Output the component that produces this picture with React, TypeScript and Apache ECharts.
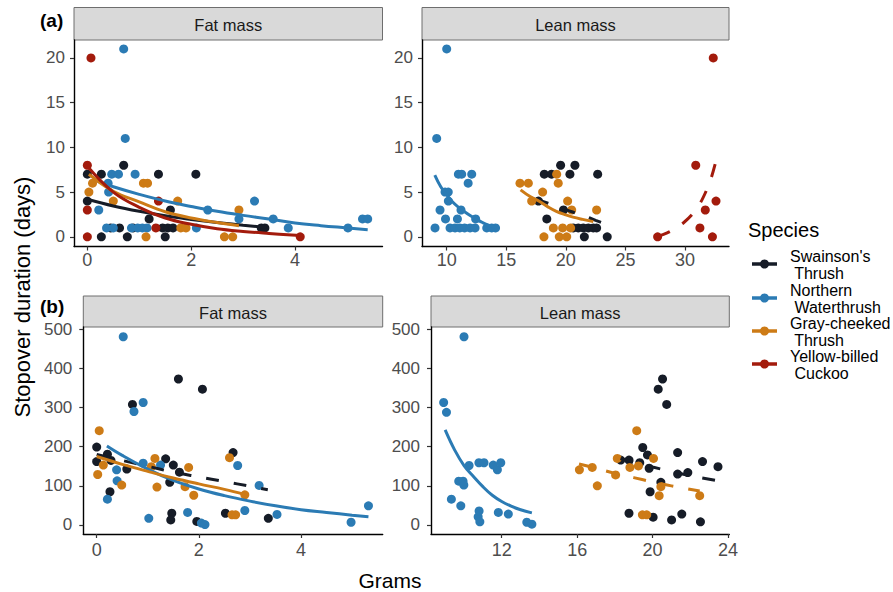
import React, { useEffect, useRef } from "react";
import * as echarts from "echarts";

const FONT = "'Liberation Sans', Arial, Helvetica, sans-serif";
const SPECIES = ["Swainson's\n Thrush", "Northern\n Waterthrush", "Gray-cheeked\n Thrush", "Yellow-billed\n Cuckoo"];
const COLORS = ["#161c27", "#2b7bb4", "#cd7b16", "#a31b0c"];
const STRIPS = ["Fat mass", "Lean mass", "Fat mass", "Lean mass"];

// tick labels
const xTicksAFat = [0, 2, 4];
const xTicksALean = [10, 15, 20, 25, 30];
const xTicksBFat = [0, 2, 4];
const xTicksBLean = [12, 16, 20, 24];
const yTicksA = [0, 5, 10, 15, 20];
const yTicksB = [0, 100, 200, 300, 400, 500];

// ---- (a) stopover days vs fat mass (g)
const aFatSwth = [[0, 7], [0.27, 7], [0.7, 8], [1.37, 7], [2.09, 7], [0, 4], [0.27, 0], [0.77, 0], [1.5, 0], [0.45, 1], [0.62, 1], [0.88, 1], [1.19, 2], [1.45, 1], [1.55, 1], [1.65, 1], [1.6, 3], [3.35, 1], [3.42, 1]];
const aFatNowa = [[0.7, 21], [0.73, 11], [0.47, 7], [0.6, 7], [0.92, 7], [0.4, 6], [0.41, 5], [0.22, 3], [0.37, 1], [0.5, 1], [0.85, 1], [0.97, 1], [1.06, 1], [1.15, 1], [2.1, 1], [2.32, 3], [2.92, 2], [3.22, 4], [3.58, 2], [3.87, 1], [5.02, 1], [5.3, 2], [5.4, 2]];
const aFatGcth = [[0.03, 5], [0.1, 6], [0.5, 4], [1.08, 6], [1.16, 6], [1.13, 0], [1.74, 4], [1.8, 1], [1.9, 1], [2.92, 3], [2.64, 0], [2.8, 0]];
const aFatYbcu = [[0.07, 20], [0, 8], [0, 3], [0, 0], [1.37, 4], [1.32, 1], [4.1, 0]];
// fitted curves
const aFatSwthFit = [[0, 4.2], [0.5, 3.45], [1, 2.85], [1.5, 2.35], [2, 1.95], [2.5, 1.6], [3, 1.3], [3.45, 1.05]];
const aFatNowaFit = [[0.2, 6.2], [0.5, 5.6], [1, 4.75], [1.5, 4.0], [2, 3.4], [2.5, 2.85], [3, 2.4], [3.5, 2.0], [4, 1.55], [4.5, 1.25], [5, 1.0], [5.4, 0.8]];
const aFatGcthFit = [[0.03, 7.0], [0.5, 5.1], [1, 3.9], [1.5, 2.8], [2, 2.1], [2.5, 1.6], [2.92, 1.25]];
const aFatYbcuFit = [[0, 7.9], [0.5, 5.0], [1, 3.3], [1.5, 2.1], [2, 1.4], [2.5, 0.9], [3, 0.6], [3.5, 0.38], [4.1, 0.15]];

// ---- (a) stopover days vs lean mass (g)
const aLeanSwth = [[18.19, 7], [18.8, 7], [19.56, 8], [20.76, 8], [20.34, 7], [22.67, 7], [17.7, 4], [19.8, 3], [18.4, 2], [20.62, 1], [21.04, 1], [21.46, 1], [21.88, 1], [22.3, 1], [22.58, 1], [21.55, 0], [23.47, 0]];
const aLeanNowa = [[10.0, 21], [9.16, 11], [10.98, 7], [11.26, 7], [12.1, 7], [11.8, 6], [9.86, 5], [10.13, 5], [10.14, 4], [9.44, 3], [11.2, 3], [9.9, 2], [10.9, 2], [12.43, 2], [9.02, 1], [10.28, 1], [10.7, 1], [11.1, 1], [11.5, 1], [11.96, 1], [12.38, 1], [13.36, 1], [13.78, 1], [14.1, 1]];
const aLeanGcth = [[16.15, 6], [16.85, 6], [19.23, 7], [19.36, 6], [18.05, 5], [17.13, 4], [20.15, 4], [20.49, 3], [22.58, 3], [18.95, 1], [19.73, 1], [20.4, 1], [18.16, 0], [19.45, 0], [20.07, 0]];
const aLeanYbcu = [[27.7, 0], [30.9, 8], [31.25, 1], [31.7, 3], [32.37, 20], [32.6, 4], [32.3, 0]];
const aLeanSwthFit = [[17.5, 4.25], [18.5, 3.75], [19.5, 3.3], [20.5, 2.8], [21.5, 2.35], [22.5, 1.85], [23.4, 1.4]];
const aLeanNowaFit = [[9.0, 6.9], [9.5, 5.6], [10, 4.7], [10.5, 3.9], [11, 3.3], [11.5, 2.8], [12, 2.35], [12.5, 1.95], [13, 1.6], [13.5, 1.3], [14.05, 1.05]];
const aLeanGcthFit = [[16.2, 5.25], [17, 4.5], [17.8, 3.95], [18.5, 3.35], [19.2, 2.85], [20, 2.45], [20.6, 2.2], [21.4, 1.95], [22.3, 1.7]];
const aLeanYbcuFit = [[27.7, 0.05], [28.5, 0.45], [29.2, 0.95], [29.9, 1.6], [30.6, 2.5], [31.2, 3.6], [31.8, 5.2], [32.2, 6.6], [32.6, 8.5]];

// ---- (b) vs fat mass (g)
const bFatSwth = [[0, 199], [0, 162], [0.21, 181], [0.28, 165], [0.26, 85], [0.59, 143], [0.7, 308], [1.35, 169], [1.5, 153], [1.62, 135], [1.43, 109], [1.6, 373], [2.07, 347], [1.47, 30], [1.45, 13], [1.96, 9], [2.52, 30], [2.67, 185], [3.36, 17]];
const bFatNowa = [[0.52, 481], [0.91, 313], [0.73, 290], [0.91, 158], [0.39, 141], [0.4, 113], [0.21, 66], [1.02, 17], [1.25, 153], [1.78, 32], [2.05, 5], [2.12, 1], [2.76, 152], [2.9, 37], [3.18, 101], [3.53, 27], [4.98, 7], [5.32, 49]];
const bFatGcth = [[0.05, 241], [0.02, 129], [0.13, 153], [0.49, 102], [1.14, 170], [1.07, 149], [1.18, 97], [1.8, 147], [1.73, 98], [1.9, 76], [2.6, 172], [2.65, 26], [2.72, 26], [2.9, 77]];
const bFatSwthFit = [[0, 180], [0.5, 165], [1, 150], [1.5, 135], [2, 123], [2.5, 111], [3, 99], [3.35, 90]];
const bFatNowaFit = [[0.2, 202], [0.5, 178], [1, 143], [1.5, 114], [2, 92], [2.5, 75], [3, 61], [3.5, 49], [4, 39], [4.5, 32], [5, 25], [5.32, 21]];
const bFatGcthFit = [[0, 175], [0.5, 155], [1, 137], [1.5, 120], [2, 105], [2.5, 91], [2.9, 78]];

// ---- (b) vs lean mass (g)
const bLeanSwth = [[20.53, 373], [20.3, 347], [20.75, 308], [19.48, 198], [19.73, 179], [21.33, 185], [22.65, 162], [23.47, 149], [18.31, 166], [18.75, 166], [19.32, 159], [19.82, 145], [21.33, 130], [21.87, 134], [20.44, 109], [19.87, 85], [18.75, 30], [20.03, 20], [21.01, 13], [21.55, 28], [22.54, 8]];
const bLeanNowa = [[8.92, 313], [9.07, 288], [9.33, 66], [9.72, 112], [9.95, 112], [9.99, 102], [9.83, 49], [10.27, 152], [10.0, 481], [10.79, 159], [11.06, 159], [11.55, 153], [11.77, 141], [11.95, 159], [10.75, 21], [10.84, 8], [10.8, 36], [11.82, 32], [12.35, 28], [13.33, 7], [13.6, 2]];
const bLeanGcth = [[19.16, 241], [18.13, 170], [20.05, 170], [16.12, 141], [16.8, 147], [18.8, 147], [19.25, 151], [18.04, 128], [17.07, 100], [20.44, 98], [20.35, 75], [22.5, 75], [19.46, 26], [19.69, 26]];
const bLeanSwthFit = [[18.3, 170], [19, 160], [20, 148], [21, 137], [22, 126], [23.45, 113]];
const bLeanNowaFit = [[9.0, 243], [9.5, 192], [10, 152], [10.5, 124], [11, 98], [11.5, 76], [12, 60], [12.5, 48], [13, 39], [13.6, 31]];
const bLeanGcthFit = [[16.1, 156], [17, 145], [18, 132], [19, 121], [20, 110], [21, 100], [22.5, 87]];

type Panel = {
  grid: { left: number; top: number; width: number; height: number };
  xMin: number; xMax: number; xTicks: number[]; xMargin: number;
  yMin: number; yMax: number; yTicks: number[]; yMargin: number;
  points: number[][][];
  fits: { data: number[][]; sp: number; dashed: boolean }[];
};

const PANELS: Panel[] = [
  {
    grid: { left: 74, top: 40, width: 308.5, height: 206.5 },
    xMin: -0.257, xMax: 5.685, xTicks: xTicksAFat, xMargin: 4,
    yMin: -1.08, yMax: 22.0, yTicks: yTicksA, yMargin: 9,
    points: [aFatSwth, aFatNowa, aFatGcth, aFatYbcu],
    fits: [
      { data: aFatSwthFit, sp: 0, dashed: false },
      { data: aFatNowaFit, sp: 1, dashed: false },
      { data: aFatGcthFit, sp: 2, dashed: false },
      { data: aFatYbcuFit, sp: 3, dashed: false },
    ],
  },
  {
    grid: { left: 422, top: 40, width: 307, height: 206.5 },
    xMin: 7.927, xMax: 33.69, xTicks: xTicksALean, xMargin: 4,
    yMin: -1.08, yMax: 22.0, yTicks: yTicksA, yMargin: 9,
    points: [aLeanSwth, aLeanNowa, aLeanGcth, aLeanYbcu],
    fits: [
      { data: aLeanSwthFit, sp: 0, dashed: true },
      { data: aLeanNowaFit, sp: 1, dashed: false },
      { data: aLeanGcthFit, sp: 2, dashed: false },
      { data: aLeanYbcuFit, sp: 3, dashed: true },
    ],
  },
  {
    grid: { left: 83.3, top: 327, width: 299.4, height: 207 },
    xMin: -0.262, xMax: 5.599, xTicks: xTicksBFat, xMargin: 7,
    yMin: -23, yMax: 505.9, yTicks: yTicksB, yMargin: 11,
    points: [bFatSwth, bFatNowa, bFatGcth, []],
    fits: [
      { data: bFatSwthFit, sp: 0, dashed: true },
      { data: bFatNowaFit, sp: 1, dashed: false },
      { data: bFatGcthFit, sp: 2, dashed: false },
    ],
  },
  {
    grid: { left: 431, top: 327, width: 298.3, height: 207 },
    xMin: 8.249, xMax: 24.07, xTicks: xTicksBLean, xMargin: 7,
    yMin: -23, yMax: 505.9, yTicks: yTicksB, yMargin: 11,
    points: [bLeanSwth, bLeanNowa, bLeanGcth, []],
    fits: [
      { data: bLeanSwthFit, sp: 0, dashed: true },
      { data: bLeanNowaFit, sp: 1, dashed: false },
      { data: bLeanGcthFit, sp: 2, dashed: true },
    ],
  },
];

function buildOption() {
  const grids = PANELS.map((p) => ({ ...p.grid, containLabel: false, outerBoundsMode: "none" }));
  const xAxes = PANELS.map((p, i) => ({
    type: "value",
    gridIndex: i,
    min: p.xMin,
    max: p.xMax,
    splitLine: { show: false },
    axisLine: { show: true, onZero: false, lineStyle: { color: "#000", width: 1.4 } },
    axisTick: { show: true, length: 4, customValues: p.xTicks, lineStyle: { color: "#333", width: 1.2 } },
    axisLabel: { customValues: p.xTicks, color: "#4d4d4d", fontSize: 18, fontFamily: FONT, margin: p.xMargin },
  }));
  const yAxes = PANELS.map((p, i) => ({
    type: "value",
    gridIndex: i,
    min: p.yMin,
    max: p.yMax,
    splitLine: { show: false },
    axisLine: { show: true, onZero: false, lineStyle: { color: "#000", width: 1.4 } },
    axisTick: { show: true, length: 4, customValues: p.yTicks, lineStyle: { color: "#333", width: 1.2 } },
    axisLabel: { customValues: p.yTicks, color: "#4d4d4d", fontSize: 17, fontFamily: FONT, margin: p.yMargin },
  }));

  const series: any[] = [];
  PANELS.forEach((p, i) => {
    p.points.forEach((pts, sp) => {
      if (!pts.length) return;
      series.push({
        type: "scatter",
        xAxisIndex: i,
        yAxisIndex: i,
        data: pts,
        symbol: "circle",
        symbolSize: 9,
        itemStyle: { color: COLORS[sp], opacity: 1 },
        silent: true,
      });
    });
  });
  PANELS.forEach((p, i) => {
    p.fits.forEach((f) => {
      series.push({
        type: "line",
        xAxisIndex: i,
        yAxisIndex: i,
        data: f.data,
        showSymbol: false,
        symbol: "none",
        smooth: 0.4,
        lineStyle: { color: COLORS[f.sp], width: 3, type: f.dashed ? [13, 15] : "solid", cap: "butt" },
        silent: true,
      });
    });
  });

  const graphics: any[] = [];
  PANELS.forEach((p, i) => {
    const top = i < 2 ? 7.5 : 296;
    const h = p.grid.top - top;
    graphics.push({
      type: "rect",
      shape: { x: p.grid.left, y: top, width: p.grid.width, height: h },
      style: { fill: "#d9d9d9", stroke: "#6e6e6e", lineWidth: 1 },
      silent: true,
    });
    graphics.push({
      type: "text",
      x: p.grid.left + p.grid.width / 2,
      y: top + h / 2 + 1,
      style: { text: STRIPS[i], fontSize: 16.5, fontFamily: FONT, fill: "#1a1a1a", textAlign: "center", textVerticalAlign: "middle" },
      silent: true,
    });
  });
  graphics.push({
    type: "text", x: 40, y: 20,
    style: { text: "(a)", fontSize: 19, fontWeight: "bold", fontFamily: FONT, fill: "#000", textAlign: "left", textVerticalAlign: "middle" },
  });
  graphics.push({
    type: "text", x: 40, y: 306,
    style: { text: "(b)", fontSize: 19, fontWeight: "bold", fontFamily: FONT, fill: "#000", textAlign: "left", textVerticalAlign: "middle" },
  });
  graphics.push({
    type: "text", x: 390, y: 580,
    style: { text: "Grams", fontSize: 21, fontFamily: FONT, fill: "#000", textAlign: "center", textVerticalAlign: "middle" },
  });
  graphics.push({
    type: "text", x: 22, y: 297, rotation: Math.PI / 2,
    style: { text: "Stopover duration (days)", fontSize: 22, fontFamily: FONT, fill: "#000", textAlign: "center", textVerticalAlign: "middle" },
  });
  graphics.push({
    type: "text", x: 748, y: 230,
    style: { text: "Species", fontSize: 20, fontFamily: FONT, fill: "#000", textAlign: "left", textVerticalAlign: "middle" },
  });
  const keyY = [264, 298, 331, 364];
  SPECIES.forEach((s, i) => {
    const ky = keyY[i];
    graphics.push({ type: "line", shape: { x1: 752, y1: ky, x2: 777, y2: ky }, style: { stroke: COLORS[i], lineWidth: 3.5 } });
    graphics.push({ type: "circle", shape: { cx: 764.5, cy: ky, r: 4.5 }, style: { fill: COLORS[i] } });
    graphics.push({
      type: "text", x: 790, y: ky + 1,
      style: { text: s, fontSize: 16, lineHeight: 17.5, fontFamily: FONT, fill: "#000", textAlign: "left", textVerticalAlign: "middle" },
    });
  });

  return {
    animation: false,
    backgroundColor: "#ffffff",
    grid: grids,
    xAxis: xAxes,
    yAxis: yAxes,
    series,
    graphic: graphics,
  };
}

export default function App() {
  const ref = useRef<HTMLDivElement>(null);
  useEffect(() => {
    if (!ref.current) return;
    const chart = echarts.init(ref.current, undefined, { renderer: "svg" });
    chart.setOption(buildOption() as any);
    return () => chart.dispose();
  }, []);
  return <div ref={ref} style={{ position: "fixed", left: 0, top: 0, width: 893, height: 592, background: "#fff" }} />;
}
